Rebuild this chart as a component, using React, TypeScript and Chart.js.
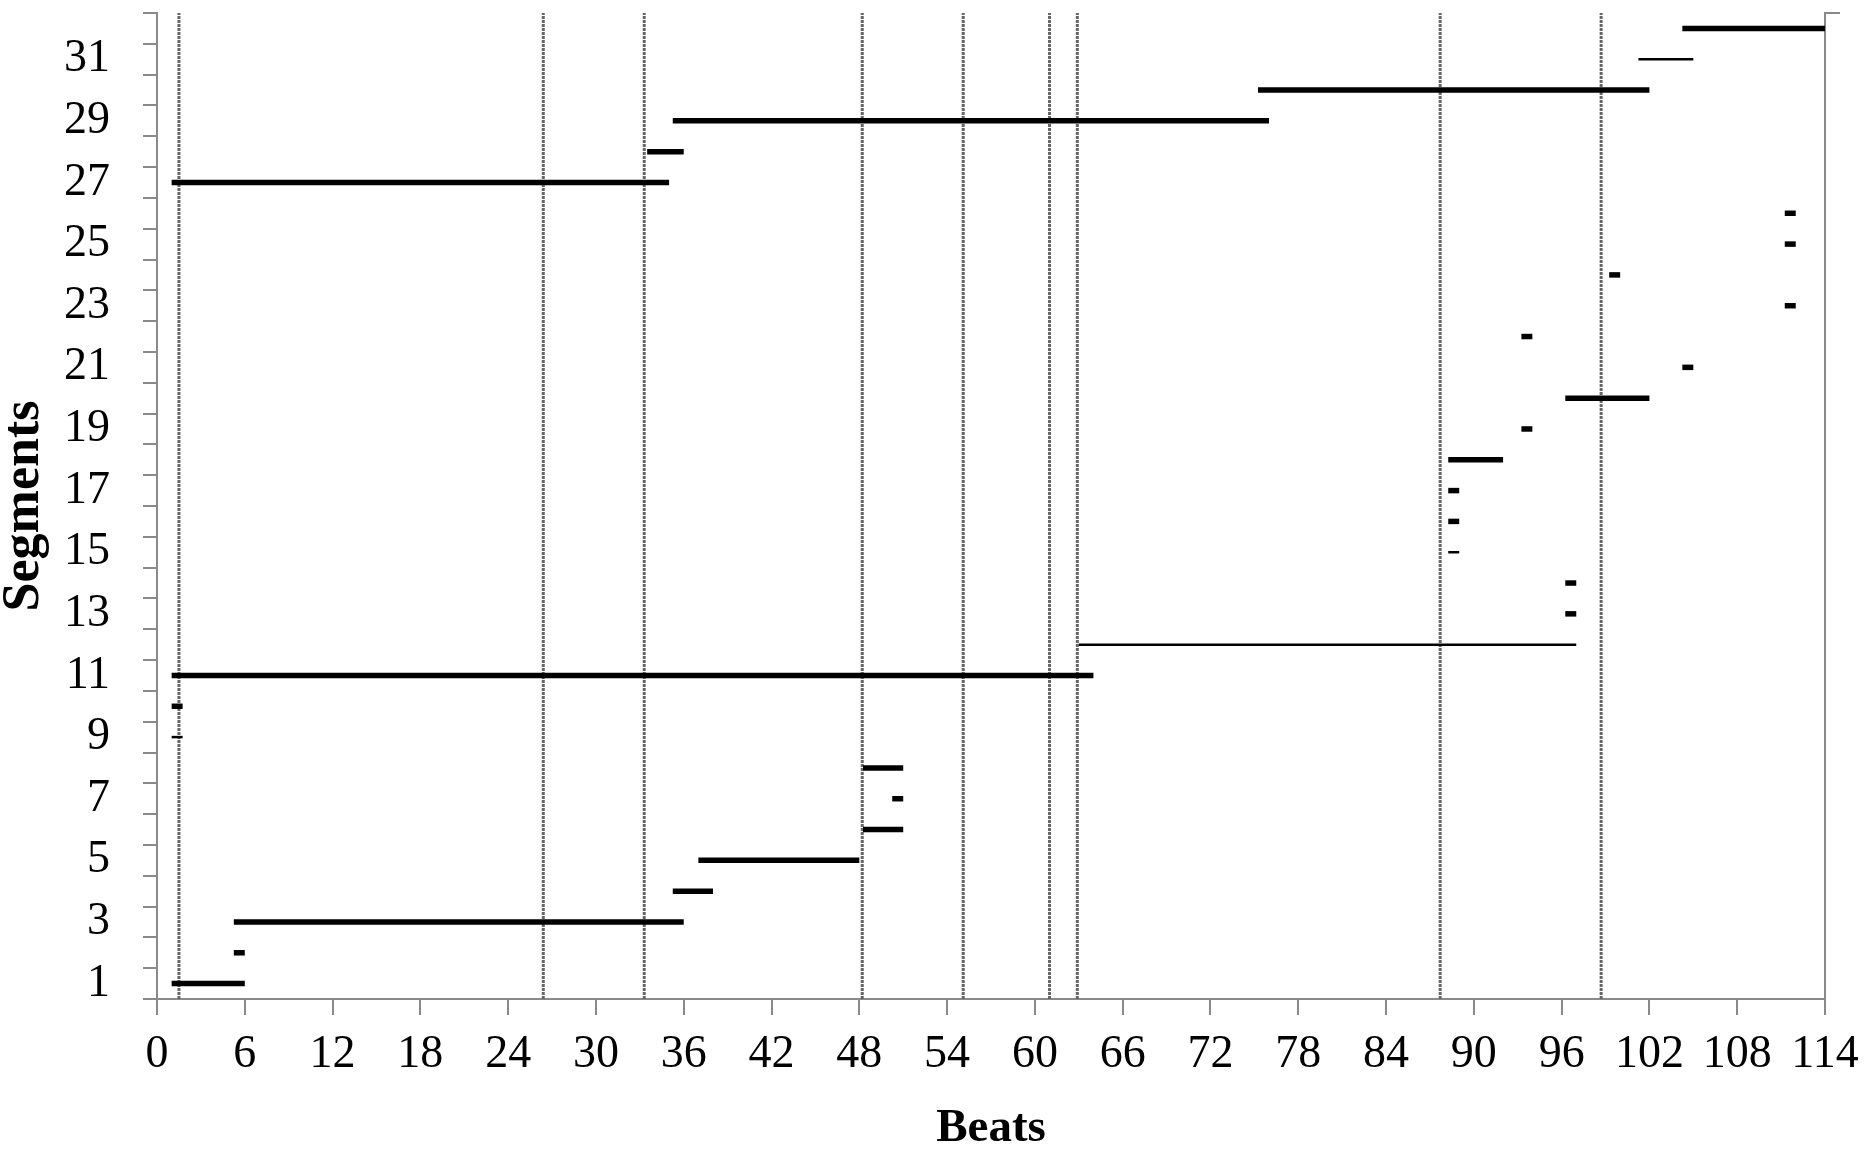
import React, { useEffect, useRef } from 'react';
import { Chart, registerables } from 'chart.js';

Chart.register(...registerables);

// ---- data ----
const SEGMENT_IDS = [
  1, 2, 3, 4, 5, 6, 7, 8, 9, 10, 11, 12, 13, 14, 15, 16,
  17, 18, 19, 20, 21, 22, 23, 24, 25, 26, 27, 28, 29, 30, 31, 32,
];
const SEG_START = [
  1, 5.25, 5.25, 35.25, 37, 48.25, 50.25, 48.25, 1, 1, 1, 63, 96.25, 96.25, 88.25, 88.25,
  88.25, 88.25, 93.25, 96.25, 104.25, 93.25, 111.25, 99.25, 111.25, 111.25, 1, 33.5, 35.25, 75.25, 101.25, 104.25,
];
const SEG_END = [
  6, 6, 36, 38, 48, 51, 51, 51, 1.75, 1.75, 64, 97, 97, 97, 89, 89,
  89, 92, 94, 102, 105, 94, 112, 100, 112, 112, 35, 36, 76, 102, 105, 114,
];
const THIN_SEGMENTS = [9, 12, 15, 31];
const BOUNDARY_BEATS = [1.5, 26.4, 33.3, 48.2, 55.1, 61, 62.9, 87.7, 98.7];
const X_TICKS = [0, 6, 12, 18, 24, 30, 36, 42, 48, 54, 60, 66, 72, 78, 84, 90, 96, 102, 108, 114];
const Y_LABELS = [1, 3, 5, 7, 9, 11, 13, 15, 17, 19, 21, 23, 25, 27, 29, 31];
const Y_MIN = 0.5;
const Y_MAX = 32.5;
const X_MIN = 0;
const X_MAX = 114;

const SERIF = "'Liberation Serif', 'Times New Roman', serif";
const AXIS_GRAY = '#8a8a8a';

const noPad = (s: any) => {
  s.paddingTop = 0;
  s.paddingBottom = 0;
  s.paddingLeft = 0;
  s.paddingRight = 0;
};

export default function App() {
  const ref = useRef<HTMLCanvasElement>(null);

  useEffect(() => {
    if (!ref.current) return;

    const segDatasets = SEGMENT_IDS.map((id, i) => ({
      label: 'Segment ' + id,
      data: [
        { x: SEG_START[i], y: id },
        { x: SEG_END[i], y: id },
      ],
      showLine: true,
      borderColor: '#000000',
      backgroundColor: '#000000',
      borderWidth: THIN_SEGMENTS.includes(id) ? 2.5 : 5.5,
      borderCapStyle: 'butt' as const,
      pointRadius: 0,
      pointHoverRadius: 0,
      xAxisID: 'x',
      yAxisID: 'y',
      order: 0,
    }));

    const boundaryDatasets = BOUNDARY_BEATS.map((b, i) => ({
      label: 'Boundary ' + (i + 1),
      data: [
        { x: b, y: Y_MIN },
        { x: b, y: Y_MAX },
      ],
      showLine: true,
      borderColor: '#666666',
      backgroundColor: '#666666',
      borderWidth: 3,
      borderDash: [3, 1],
      borderCapStyle: 'butt' as const,
      pointRadius: 0,
      pointHoverRadius: 0,
      xAxisID: 'x',
      yAxisID: 'y',
      order: 1,
    }));

    const chart = new Chart(ref.current, {
      type: 'scatter',
      data: { datasets: [...boundaryDatasets, ...segDatasets] as any },
      options: {
        responsive: false,
        animation: false,
        layout: { padding: { left: 0, right: 26, top: 13, bottom: 0 } },
        plugins: {
          legend: { display: false },
          tooltip: { enabled: false },
          title: { display: false },
        },
        scales: {
          x: {
            type: 'linear',
            position: 'bottom',
            min: X_MIN,
            max: X_MAX,
            afterBuildTicks: (s: any) => {
              s.ticks = X_TICKS.map((v) => ({ value: v }));
            },
            ticks: {
              autoSkip: false,
              maxRotation: 0,
              padding: 12,
              color: '#000000',
              font: { family: SERIF, size: 46 },
            },
            grid: {
              drawOnChartArea: false,
              drawTicks: true,
              tickLength: 16,
              color: AXIS_GRAY,
              lineWidth: 2,
            },
            border: { display: true, color: AXIS_GRAY, width: 2 },
            title: {
              display: true,
              text: 'Beats',
              color: '#000000',
              padding: 0,
              font: { family: SERIF, size: 47, weight: 'bold', lineHeight: 1 },
            },
            afterFit: (s: any) => {
              s.height = 153;
              noPad(s);
            },
          },
          yTicks: {
            type: 'linear',
            position: 'left',
            weight: 0,
            min: Y_MIN,
            max: Y_MAX,
            afterBuildTicks: (s: any) => {
              const t: { value: number }[] = [];
              for (let v = Y_MIN; v <= Y_MAX; v += 1) t.push({ value: v });
              s.ticks = t;
            },
            ticks: { display: false },
            grid: {
              drawOnChartArea: false,
              drawTicks: true,
              tickLength: 14,
              color: AXIS_GRAY,
              lineWidth: 2,
            },
            border: { display: true, color: AXIS_GRAY, width: 2 },
            afterFit: (s: any) => {
              s.width = 14;
              noPad(s);
            },
          },
          y: {
            type: 'linear',
            position: 'left',
            weight: 1,
            min: Y_MIN,
            max: Y_MAX,
            afterBuildTicks: (s: any) => {
              s.ticks = Y_LABELS.map((v) => ({ value: v }));
            },
            ticks: {
              autoSkip: false,
              padding: 33,
              color: '#000000',
              font: { family: SERIF, size: 46 },
            },
            grid: { display: false, drawTicks: false, tickLength: 0 },
            border: { display: false },
            title: {
              display: true,
              text: 'Segments',
              color: '#000000',
              padding: 0,
              font: { family: SERIF, size: 52, weight: 'bold', lineHeight: 0.95 },
            },
            afterFit: (s: any) => {
              s.width = 143;
              noPad(s);
            },
          },
          yRight: {
            type: 'linear',
            position: 'right',
            min: Y_MIN,
            max: Y_MAX,
            afterBuildTicks: (s: any) => {
              s.ticks = [{ value: Y_MAX }];
            },
            ticks: { display: false },
            grid: {
              drawOnChartArea: false,
              drawTicks: true,
              tickLength: 15,
              color: AXIS_GRAY,
              lineWidth: 2,
            },
            border: { display: true, color: AXIS_GRAY, width: 2 },
            afterFit: (s: any) => {
              s.width = 15;
              noPad(s);
            },
          },
        },
      } as any,
    });

    return () => chart.destroy();
  }, []);

  return (
    <div
      style={{
        position: 'fixed',
        left: 0,
        top: 0,
        width: 1866,
        height: 1152,
        background: '#ffffff',
      }}
    >
      <canvas ref={ref} width={1866} height={1152} style={{ display: 'block' }} />
    </div>
  );
}
